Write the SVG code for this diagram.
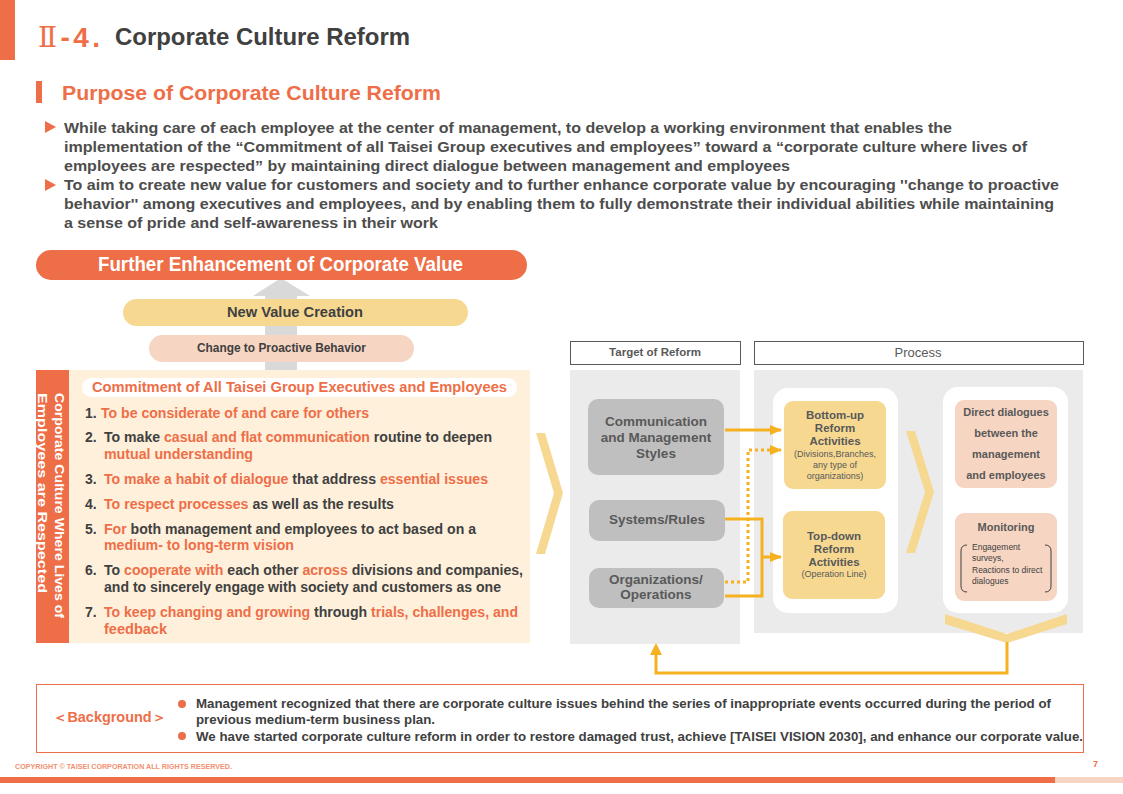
<svg xmlns="http://www.w3.org/2000/svg" width="1123" height="794" viewBox="0 0 1123 794">
<style>
text{font-family:"Liberation Sans",Arial,sans-serif;}
.b{font-weight:bold;}
.dk{fill:#404040;}
.or{fill:#EE6E48;}
.gy{fill:#595959;}
.body{font-size:15px;font-weight:bold;fill:#4D4D4D;}
.item{font-size:14px;font-weight:bold;fill:#404040;}
.item .o{fill:#EE6E48;}
.tgt{fill:#BFBFBF;}
.tgtT{font-size:13.5px;font-weight:bold;fill:#595959;text-anchor:middle;}
.act{fill:#F6D891;}
.actT{font-size:11.5px;font-weight:bold;fill:#595959;text-anchor:middle;}
.actS{font-size:9px;fill:#595959;text-anchor:middle;}
.pk{fill:#F6D5C2;}
.pkT{font-size:11px;font-weight:bold;fill:#595959;text-anchor:middle;}
.conn{fill:none;stroke:#F5B120;stroke-width:3;}
.dot{stroke-dasharray:3 3;}
.chev{fill:#F6D891;}
.bg{font-size:13px;font-weight:bold;fill:#404040;}
</style>
<defs>
<marker id="ah" markerWidth="12" markerHeight="10" refX="11" refY="5" orient="auto" markerUnits="userSpaceOnUse">
<path d="M0,0 L12,5 L0,10 Z" fill="#F5B120"/>
</marker>
</defs>
<rect width="1123" height="794" fill="#FFFFFF"/>

<g id="header">
<rect x="0" y="0" width="15" height="60" fill="#EE6E48"/>
<text x="38" y="47" font-size="28" class="or" textLength="62" lengthAdjust="spacing"><tspan font-family="'DejaVu Serif','Liberation Serif',serif">Ⅱ</tspan><tspan font-weight="bold">-4.</tspan></text>
<text x="115" y="45" font-size="23" class="b dk" textLength="295" lengthAdjust="spacingAndGlyphs">Corporate Culture Reform</text>
<rect x="36" y="81" width="6" height="22" fill="#EE6E48"/>
<text x="62" y="100" font-size="19.5" class="b or" textLength="379" lengthAdjust="spacingAndGlyphs">Purpose of Corporate Culture Reform</text>
</g>

<g id="purpose">
<polygon points="45,121 56,127 45,133" fill="#EE6E48"/>
<polygon points="45,179 56,185 45,191" fill="#EE6E48"/>
<text x="64" y="133" class="body" textLength="888" lengthAdjust="spacingAndGlyphs">While taking care of each employee at the center of management, to develop a working environment that enables the</text>
<text x="64" y="152" class="body" textLength="963" lengthAdjust="spacingAndGlyphs">implementation of the  “Commitment of all  Taisei Group executives and employees” toward a “corporate culture where lives of</text>
<text x="64" y="171" class="body" textLength="726" lengthAdjust="spacingAndGlyphs">employees are respected” by maintaining  direct dialogue between management and employees</text>
<text x="64" y="190" class="body" textLength="995" lengthAdjust="spacingAndGlyphs">To aim to create new value for customers and society and to further enhance corporate value by encouraging ''change to proactive</text>
<text x="64" y="209" class="body" textLength="990" lengthAdjust="spacingAndGlyphs">behavior'' among executives and employees, and by enabling them to fully demonstrate their individual abilities while maintaining</text>
<text x="64" y="228" class="body" textLength="374" lengthAdjust="spacingAndGlyphs">a sense of pride and self-awareness in their work</text>
</g>

<g id="value-stack">
<polygon points="253,296 281,278 310,296 297,296 297,370 265,370 265,296" fill="#D9D9D9"/>
<rect x="36" y="250" width="491" height="30" rx="15" fill="#EE6E48"/>
<text x="98" y="271" font-size="20" class="b" fill="#FFFFFF" textLength="365" lengthAdjust="spacingAndGlyphs">Further Enhancement of Corporate Value</text>
<rect x="123" y="299" width="345" height="27" rx="13.5" fill="#F6D891"/>
<text x="227" y="317" font-size="15" class="b dk" textLength="136" lengthAdjust="spacingAndGlyphs">New Value Creation</text>
<rect x="149" y="335" width="265" height="27" rx="13.5" fill="#F6D5C2"/>
<text x="197" y="352" font-size="12.5" class="b dk" textLength="169" lengthAdjust="spacingAndGlyphs">Change to Proactive Behavior</text>
</g>

<g id="commitment">
<rect x="69" y="370" width="461" height="273" fill="#FEF0DB"/>
<rect x="36" y="370" width="33" height="273" fill="#EE6E48"/>
<text transform="translate(55,393) rotate(90)" font-size="13.5" class="b" fill="#FFFFFF" textLength="225" lengthAdjust="spacingAndGlyphs">Corporate Culture Where Lives of</text>
<text transform="translate(38,393) rotate(90)" font-size="13.5" class="b" fill="#FFFFFF" textLength="200" lengthAdjust="spacingAndGlyphs">Employees are Respected</text>
<rect x="82" y="378" width="435" height="19" rx="9.5" fill="#FFFFFF"/>
<text x="92" y="392" font-size="14.5" class="b or" textLength="415" lengthAdjust="spacingAndGlyphs">Commitment of All  Taisei Group Executives and Employees</text>
<text x="85" y="418" class="item">1.</text>
<text x="101" y="418" class="item" textLength="268" lengthAdjust="spacingAndGlyphs"><tspan class="o">To be considerate of and care for others</tspan></text>
<text x="85" y="442" class="item">2.</text>
<text x="104" y="442" class="item" textLength="388" lengthAdjust="spacingAndGlyphs">To make <tspan class="o">casual and flat communication</tspan> routine to deepen</text>
<text x="104" y="459" class="item" textLength="149" lengthAdjust="spacingAndGlyphs"><tspan class="o">mutual understanding</tspan></text>
<text x="85" y="484" class="item">3.</text>
<text x="104" y="484" class="item" textLength="384" lengthAdjust="spacingAndGlyphs"><tspan class="o">To make a habit of dialogue</tspan> that address <tspan class="o">essential issues</tspan></text>
<text x="85" y="509" class="item">4.</text>
<text x="104" y="509" class="item" textLength="290" lengthAdjust="spacingAndGlyphs"><tspan class="o">To respect processes</tspan> as well as the results</text>
<text x="85" y="534" class="item">5.</text>
<text x="104" y="534" class="item" textLength="372" lengthAdjust="spacingAndGlyphs"><tspan class="o">For</tspan> both management and employees to act based on a</text>
<text x="104" y="550" class="item" textLength="190" lengthAdjust="spacingAndGlyphs"><tspan class="o">medium- to long-term vision</tspan></text>
<text x="85" y="575" class="item">6.</text>
<text x="104" y="575" class="item" textLength="419" lengthAdjust="spacingAndGlyphs">To <tspan class="o">cooperate with</tspan> each other <tspan class="o">across</tspan> divisions and companies,</text>
<text x="104" y="592" class="item" textLength="397" lengthAdjust="spacingAndGlyphs">and to sincerely engage with society and customers as one</text>
<text x="85" y="617" class="item">7.</text>
<text x="104" y="617" class="item" textLength="414" lengthAdjust="spacingAndGlyphs"><tspan class="o">To keep changing and growing</tspan> through <tspan class="o">trials, challenges, and</tspan></text>
<text x="104" y="634" class="item" textLength="63" lengthAdjust="spacingAndGlyphs"><tspan class="o">feedback</tspan></text>
</g>

<g id="chevron-1">
<polygon class="chev" points="536,433 545,433 563,493 545,554 536,554 554,493"/>
</g>

<g id="target-of-reform">
<rect x="570.5" y="341.5" width="170" height="23" fill="#FFFFFF" stroke="#595959" stroke-width="1"/>
<text x="655" y="356" font-size="11.5" class="b gy" text-anchor="middle">Target of Reform</text>
<rect x="570" y="370" width="170" height="274" fill="#EBEBEB"/>
</g>
<g id="node-communication">
<rect class="tgt" x="588" y="399" width="136" height="76" rx="10"/>
<text class="tgtT" x="656" y="426">Communication</text>
<text class="tgtT" x="656" y="442">and Management</text>
<text class="tgtT" x="656" y="458">Styles</text>
</g>
<g id="node-systems">
<rect class="tgt" x="589" y="500" width="136" height="41" rx="10"/>
<text class="tgtT" x="657" y="524" font-size="12.5">Systems/Rules</text>
</g>
<g id="node-organizations">
<rect class="tgt" x="589" y="568" width="135" height="40" rx="10"/>
<text class="tgtT" x="656" y="584" font-size="12.5">Organizations/</text>
<text class="tgtT" x="656" y="599" font-size="12.5">Operations</text>
</g>

<g id="process">
<rect x="754.5" y="341.5" width="329" height="23" fill="#FFFFFF" stroke="#595959" stroke-width="1"/>
<text x="918" y="357" font-size="13" class="gy" text-anchor="middle">Process</text>
<rect x="754" y="370" width="329" height="263" fill="#EBEBEB"/>
<rect x="773" y="388" width="125" height="225" rx="15" fill="#FFFFFF"/>
<rect x="943" y="387" width="125" height="226" rx="15" fill="#FFFFFF"/>
</g>
<g id="node-bottom-up">
<rect class="act" x="784" y="401" width="102" height="88" rx="9"/>
<text class="actT" x="835" y="419">Bottom-up</text>
<text class="actT" x="835" y="432">Reform</text>
<text class="actT" x="835" y="445">Activities</text>
<text class="actS" x="835" y="457">(Divisions,Branches,</text>
<text class="actS" x="835" y="468">any type of</text>
<text class="actS" x="835" y="479">organizations)</text>
</g>
<g id="node-top-down">
<rect class="act" x="783" y="511" width="102" height="88" rx="9"/>
<text class="actT" x="834" y="540">Top-down</text>
<text class="actT" x="834" y="553">Reform</text>
<text class="actT" x="834" y="566">Activities</text>
<text class="actS" x="834" y="577">(Operation Line)</text>
</g>
<g id="chevron-2">
<polygon class="chev" points="906,431 915,431 934,492 915,553 906,553 925,492"/>
</g>
<g id="node-direct-dialogues">
<rect class="pk" x="955" y="400" width="102" height="88" rx="9"/>
<text class="pkT" x="1006" y="416">Direct dialogues</text>
<text class="pkT" x="1006" y="437">between the</text>
<text class="pkT" x="1006" y="458">management</text>
<text class="pkT" x="1006" y="479">and employees</text>
</g>
<g id="node-monitoring">
<rect class="pk" x="955" y="513" width="102" height="88" rx="9"/>
<text class="pkT" x="1006" y="531">Monitoring</text>
<path d="M967,545 Q961,545 961,551 L961,586 Q961,592 967,592 M1045,545 Q1051,545 1051,551 L1051,586 Q1051,592 1045,592" fill="none" stroke="#404040" stroke-width="1"/>
<text x="972" y="550" font-size="8.5" class="dk">Engagement</text>
<text x="972" y="561" font-size="8.5" class="dk">surveys,</text>
<text x="972" y="573" font-size="8.5" class="dk">Reactions to direct</text>
<text x="972" y="584" font-size="8.5" class="dk">dialogues</text>
</g>
<g id="feedback-chevron">
<polygon class="chev" points="945,614 1007,634 1067,614 1067,624 1007,643 945,624"/>
</g>

<g id="connectors">
<path class="conn" d="M725,430 H781" marker-end="url(#ah)"/>
<path class="conn dot" d="M725,582 H748 V450 H781" marker-end="url(#ah)"/>
<path class="conn" d="M725,519 H762 V596 H725"/>
<path class="conn" d="M762,557 H781" marker-end="url(#ah)"/>
<path class="conn" d="M1007,642 V673 H656 V655"/>
<polygon points="650,655 662,655 656,643" fill="#F5B120"/>
</g>

<g id="background">
<rect x="36.5" y="684.5" width="1047" height="68" fill="#FFFFFF" stroke="#EE6E48" stroke-width="1"/>
<text x="53" y="722" font-size="14" class="b or" textLength="113" lengthAdjust="spacingAndGlyphs">＜Background＞</text>
<circle cx="182" cy="704" r="4" fill="#EE6E48"/>
<circle cx="182" cy="736" r="4" fill="#EE6E48"/>
<text x="196" y="708" class="bg" textLength="855" lengthAdjust="spacingAndGlyphs">Management recognized that there are corporate culture issues  behind the series of inappropriate events occurred during the period of</text>
<text x="196" y="724" class="bg" textLength="239" lengthAdjust="spacingAndGlyphs">previous medium-term business  plan.</text>
<text x="196" y="741" class="bg" textLength="887" lengthAdjust="spacingAndGlyphs">We have started corporate culture reform in order to restore damaged trust, achieve [TAISEI VISION 2030], and enhance our corporate value.</text>
</g>

<g id="footer">
<text x="15" y="769" font-size="7" class="b" fill="#F0906E" textLength="217" lengthAdjust="spacingAndGlyphs">COPYRIGHT © TAISEI CORPORATION ALL RIGHTS RESERVED.</text>
<text x="1093" y="767" font-size="9" class="b or">7</text>
<rect x="0" y="777" width="1055" height="6" fill="#EE6E48"/>
<rect x="1055" y="777" width="68" height="6" fill="#F6D5C2"/>
</g>
</svg>
